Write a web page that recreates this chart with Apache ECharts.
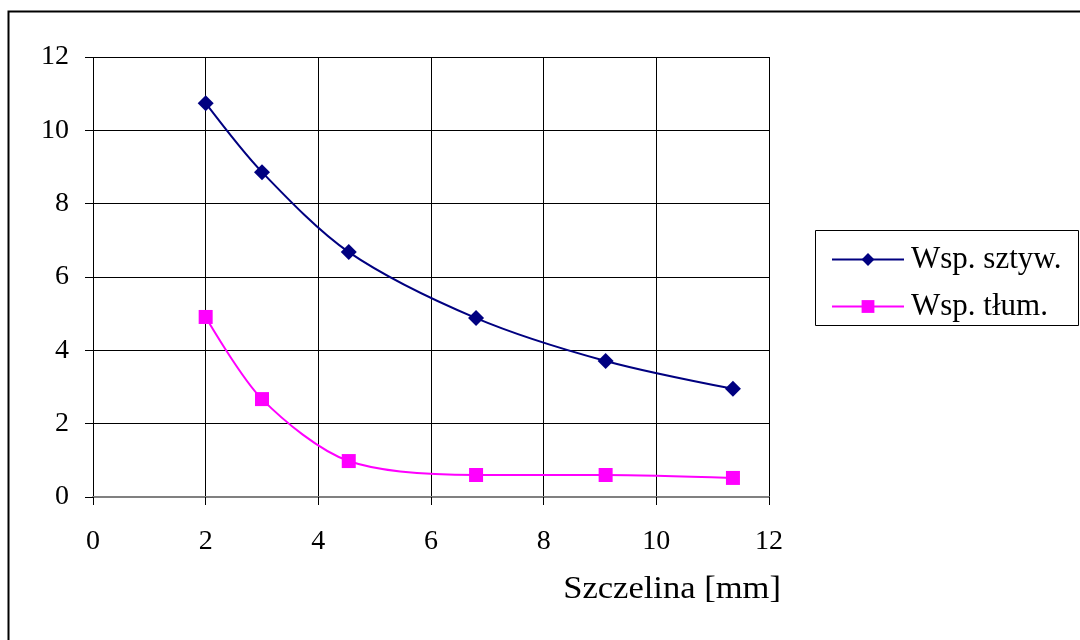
<!DOCTYPE html>
<html>
<head>
<meta charset="utf-8">
<script src="https://cdn.jsdelivr.net/npm/echarts@6/dist/echarts.min.js"></script>
<style>
  html, body { margin: 0; padding: 0; background: #fff; }
  #chart { width: 1080px; height: 640px; }
</style>
</head>
<body>
<div id="chart"></div>
<script>
// dane
const szczelina = [2, 3, 4.54, 6.8, 9.1, 11.36];
const wspSztyw = [10.74, 8.86, 6.68, 4.88, 3.71, 2.95];
const wspTlum = [4.91, 2.67, 0.98, 0.6, 0.6, 0.52];
const seriesNames = ['Wsp. sztyw.', 'Wsp. tłum.'];
const axisName = 'Szczelina [mm]';

const font = '"Liberation Serif", "Times New Roman", serif';

function pairs(xs, ys) {
  return xs.map((x, i) => [x, ys[i]]);
}

const chart = echarts.init(document.getElementById('chart'));
chart.setOption({
  animation: false,
  backgroundColor: '#fff',
  grid: { left: 93, right: 311, top: 57, bottom: 143 },
  xAxis: {
    type: 'value',
    min: 0, max: 12, interval: 2,
    axisLine: { show: true, onZero: false, lineStyle: { color: '#808080', width: 2 } },
    axisTick: { show: true, inside: false, length: 8, lineStyle: { color: '#000' } },
    axisLabel: { color: '#000', fontFamily: font, fontSize: 28, margin: 31 },
    splitLine: { show: true, lineStyle: { color: '#000', width: 1 } }
  },
  yAxis: {
    type: 'value',
    min: 0, max: 12, interval: 2,
    axisLine: { show: false },
    axisTick: { show: true, inside: false, length: 8, lineStyle: { color: '#000' } },
    axisLabel: { color: '#000', fontFamily: font, fontSize: 28, margin: 24 },
    splitLine: { show: true, lineStyle: { color: '#000', width: 1 } }
  },
  legend: {
    orient: 'vertical',
    left: 826, top: 239,
    itemWidth: 72, itemHeight: 16, itemGap: 16,
    textStyle: { fontFamily: font, fontSize: 31, color: '#000', padding: [0, 0, 0, 2] },
    data: seriesNames
  },
  graphic: [
    {
      type: 'rect', silent: true,
      shape: { x: 8.5, y: 11.5, width: 1200, height: 800 },
      style: { fill: 'none', stroke: '#000', lineWidth: 2 }
    },
    {
      type: 'rect', silent: true,
      shape: { x: 815.5, y: 230.5, width: 263, height: 95 },
      style: { fill: 'none', stroke: '#000', lineWidth: 1 }
    },
    {
      type: 'text', silent: true,
      x: 781, y: 590, scaleX: 1.08,
      style: { text: axisName, x: 0, y: 0, align: 'right', verticalAlign: 'middle',
               font: '32px ' + font, fill: '#000' }
    }
  ],
  series: [
    {
      name: seriesNames[0],
      type: 'line',
      smooth: 0.3,
      data: pairs(szczelina, wspSztyw),
      symbol: 'diamond',
      symbolSize: 16,
      color: '#000080',
      lineStyle: { color: '#000080', width: 2 },
      itemStyle: { color: '#000080' }
    },
    {
      name: seriesNames[1],
      type: 'line',
      smooth: 0.3,
      data: pairs(szczelina, wspTlum),
      symbol: 'rect',
      symbolSize: 14,
      color: '#ff00ff',
      lineStyle: { color: '#ff00ff', width: 2 },
      itemStyle: { color: '#ff00ff' }
    }
  ]
});
</script>
</body>
</html>
